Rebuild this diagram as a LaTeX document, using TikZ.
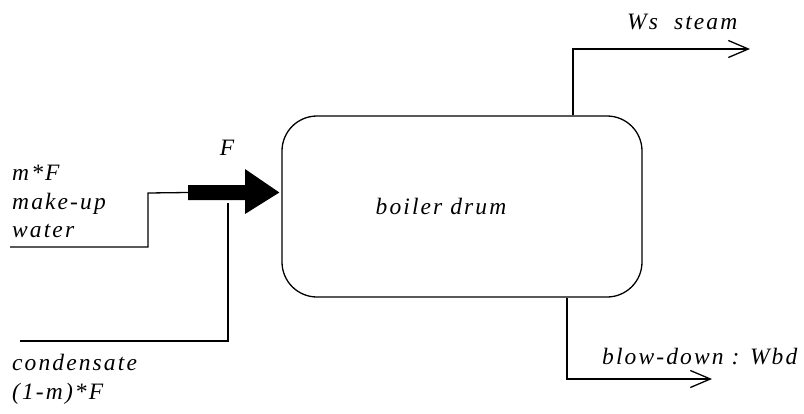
\documentclass[tikz,border=0pt]{standalone}
\usepackage{fontspec}
\setmainfont{Liberation Serif}
\newfontfamily\lblfont[LetterSpace=9]{Liberation Serif}
\usetikzlibrary{arrows.meta}
\begin{document}
\begin{tikzpicture}[x=1pt,y=-1pt,
  lbl/.style={font=\lblfont\itshape\fontsize{23.5}{28.5}\selectfont, inner sep=0pt, align=left, text=black},
  pipe/.style={line width=1.3pt, draw=black},
  outarrow/.style={pipe, -{Straight Barb[length=20pt,width=17pt,line width=1.3pt]}},
  drumbox/.style={draw=black, line width=1.3pt, rounded corners=35pt, minimum width=360pt, minimum height=181pt, inner sep=0pt}
]
\useasboundingbox (0,0) rectangle (804,413);
\fill[white] (0,0) rectangle (804,413);

\node[drumbox] (drum) at (462,206.5) {};
\node[lbl, anchor=center] (drumlbl) at (441,206) {boiler drum};

% inlet thick arrow
\coordinate (shaft0) at (188,192.5);
\coordinate (tip) at ([xshift=-2pt]drum.west |- shaft0);
\fill[black] (188,185) -- (245,185) -- (245,169) -- (tip) -- (245,214) -- (245,200) -- (188,200) -- cycle;
\node[lbl, anchor=center] (flbl) at (227,148) {F};

% make-up water
\coordinate (mu0) at (10,247);
\coordinate (mu1) at (148,247);
\coordinate (mu2) at (148,193);
\draw[pipe] (mu0) -- (mu1) -- (mu2) -- (shaft0);
\node[lbl, anchor=north west] (mulbl) at (12,165) {m*F\\make-up\\water};

% condensate
\coordinate (c0) at (20,341);
\coordinate (c1) at (228,341);
\coordinate (c2) at (228,203);
\draw[pipe] (c0) -- (c1) -- (c2);
\node[lbl, anchor=north west] (clbl) at (12,354) {condensate\\(1-m)*F};

% steam
\coordinate (s1) at (573,49);
\coordinate (s2) at (750,49);
\draw[outarrow] (drum.north -| s1) -- (s1) -- (s2);
\node[lbl, anchor=west] (slbl) at (627,22) {Ws\hspace{16pt}steam};

% blow-down
\coordinate (b1) at (567,379);
\coordinate (b2) at (712,379);
\draw[outarrow] (drum.south -| b1) -- (b1) -- (b2);
\node[lbl, anchor=west] (blbl) at (602,357) {blow-down : Wbd};
\end{tikzpicture}
\end{document}
